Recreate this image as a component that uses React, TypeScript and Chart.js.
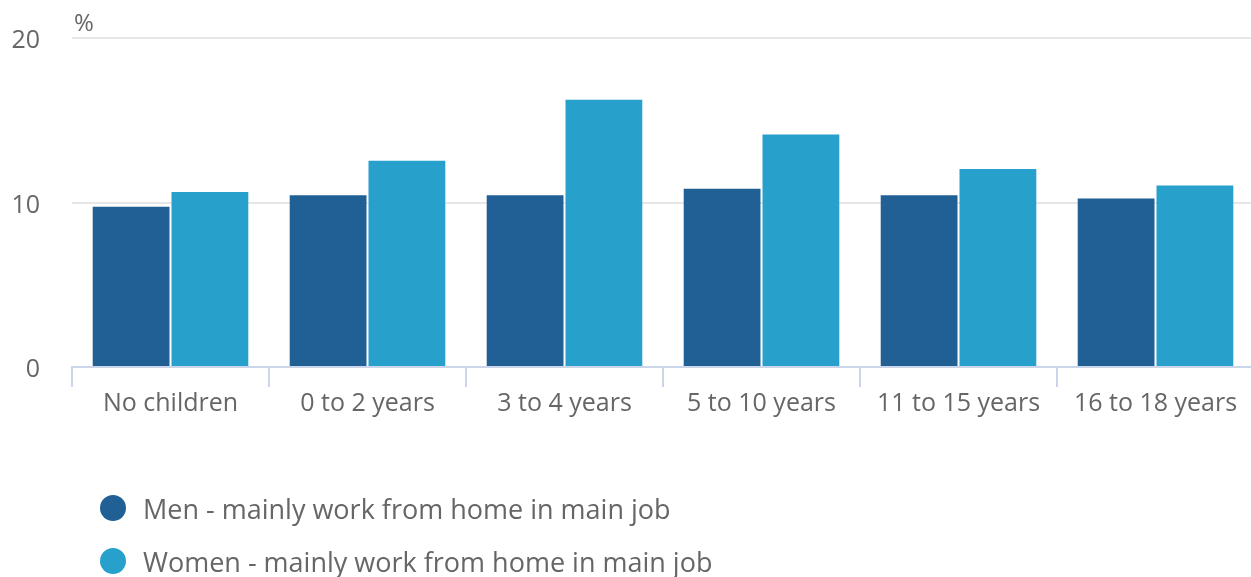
import React, { useEffect, useRef } from "react";
import { Chart, registerables } from "chart.js";

Chart.register(...registerables);

const categories = ["No children", "0 to 2 years", "3 to 4 years", "5 to 10 years", "11 to 15 years", "16 to 18 years"];
const menValues = [9.8, 10.5, 10.5, 10.9, 10.5, 10.3];
const womenValues = [10.7, 12.6, 16.3, 14.2, 12.1, 11.1];
const seriesLabels = ["Men - mainly work from home in main job", "Women - mainly work from home in main job"];
const seriesColors = ["#206095", "#27a0cc"];
const yTicks = [0, 10, 20];
const unitLabel = "%";

const FONT = "'Open Sans', sans-serif";
const OFFSET_Y = 9;

const extrasPlugin = {
  id: "extras",
  afterDraw(chart: any) {
    const ctx = chart.ctx;
    const area = chart.chartArea;
    ctx.save();
    ctx.fillStyle = "#666666";
    ctx.font = `24px ${FONT}`;
    ctx.textAlign = "left";
    ctx.textBaseline = "alphabetic";
    ctx.fillText(unitLabel, area.left + 2, area.top - 7);

    const items = chart.data.datasets;
    items.forEach((ds: any, i: number) => {
      const cy = 508 + OFFSET_Y + i * 53;
      ctx.beginPath();
      ctx.fillStyle = ds.backgroundColor;
      ctx.arc(113, cy, 13, 0, Math.PI * 2);
      ctx.fill();
      ctx.fillStyle = "#666666";
      ctx.font = `27px ${FONT}`;
      ctx.textBaseline = "middle";
      ctx.fillText(ds.label, 143, cy + 3);
    });
    ctx.restore();
  },
};

export default function App() {
  const ref = useRef<HTMLCanvasElement>(null);
  useEffect(() => {
    document.body.style.margin = "0";
    const chart = new Chart(ref.current as HTMLCanvasElement, {
      type: "bar",
      data: {
        labels: categories,
        datasets: [
          {
            label: seriesLabels[0],
            data: menValues,
            backgroundColor: seriesColors[0],
            borderColor: "rgba(255,255,255,0.3)",
            borderWidth: 1,
            barPercentage: 1,
            categoryPercentage: 0.8,
          },
          {
            label: seriesLabels[1],
            data: womenValues,
            backgroundColor: seriesColors[1],
            borderColor: "rgba(255,255,255,0.3)",
            borderWidth: 1,
            barPercentage: 1,
            categoryPercentage: 0.8,
          },
        ],
      },
      options: {
        responsive: false,
        animation: false,
        layout: { padding: { top: 20, left: 0, right: 0, bottom: 0 } },
        plugins: {
          legend: { display: false },
          tooltip: { enabled: false },
        },
        scales: {
          x: {
            grid: {
              offset: true,
              drawOnChartArea: false,
              drawTicks: true,
              tickLength: 20,
              color: "#ccd6eb",
              lineWidth: 2,
            },
            border: { display: true, color: "#ccd6eb", width: 2 },
            ticks: {
              color: "#666666",
              font: { family: FONT, size: 25 },
              padding: 2,
              maxRotation: 0,
              autoSkip: false,
            },
            afterFit(scale: any) {
              scale.height = 210;
            },
          },
          y: {
            min: 0,
            max: 20,
            afterBuildTicks(scale: any) {
              scale.ticks = yTicks.map((v) => ({ value: v }));
            },
            grid: {
              color: (c: any) => (c.tick && c.tick.value === 0 ? "rgba(0,0,0,0)" : "#e6e6e6"),
              lineWidth: 2,
              drawTicks: false,
            },
            border: { display: false },
            ticks: {
              color: "#666666",
              font: { family: FONT, size: 25 },
              padding: 32,
              labelOffset: 3,
            },
            afterFit(scale: any) {
              scale.width = 72;
            },
          },
        },
      },
      plugins: [extrasPlugin],
    });
    return () => chart.destroy();
  }, []);
  return (
    <div style={{ width: 1251, height: 577, overflow: "hidden", position: "relative" }}>
      <canvas
        ref={ref}
        width={1254}
        height={577 + OFFSET_Y}
        style={{ display: "block", position: "absolute", left: 0, top: -OFFSET_Y }}
      />
    </div>
  );
}
